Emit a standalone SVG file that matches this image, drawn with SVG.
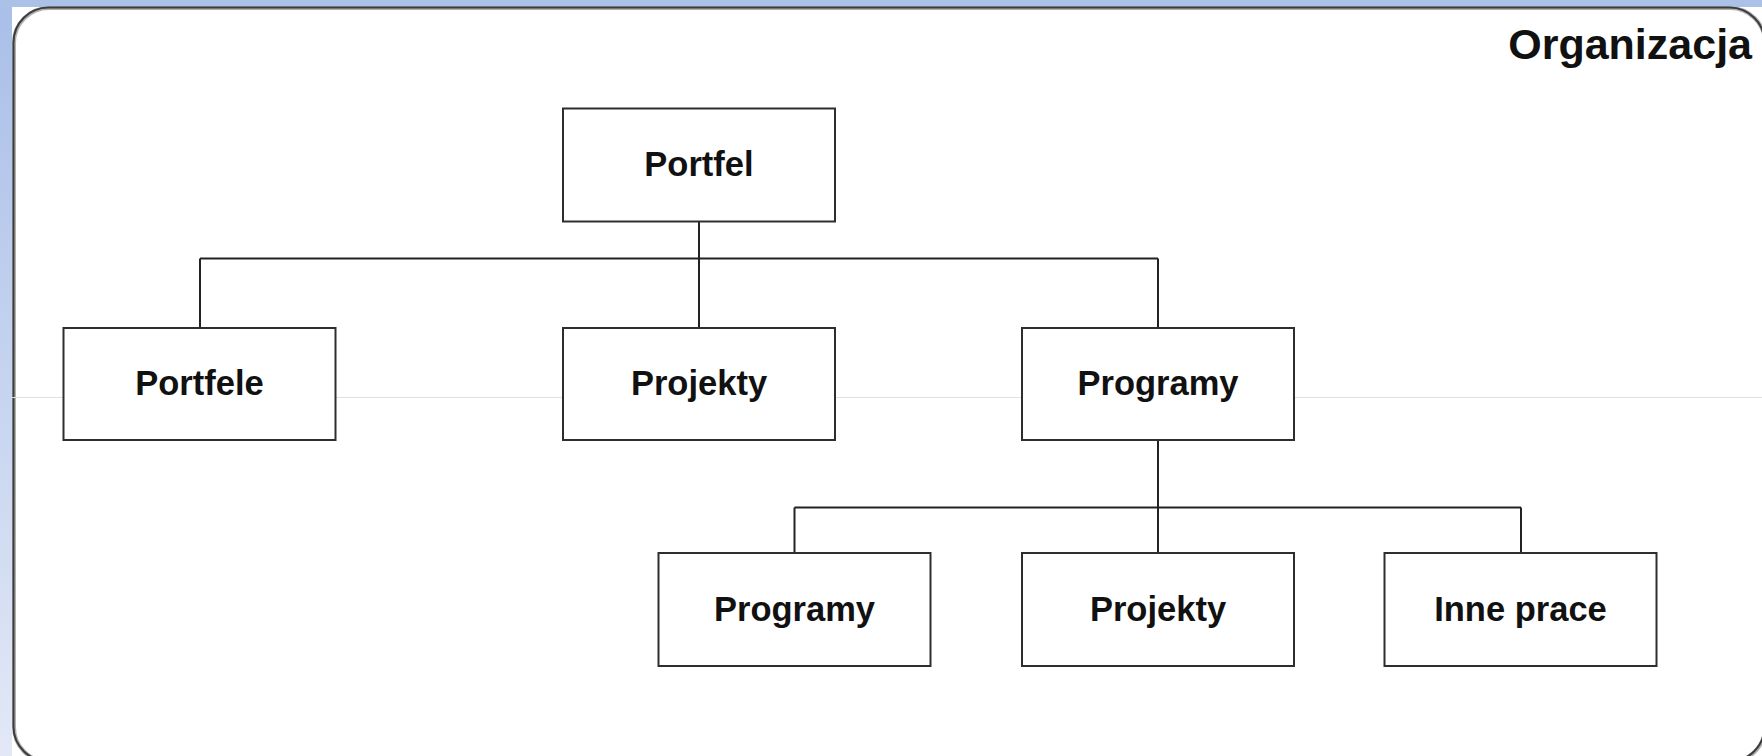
<svg xmlns="http://www.w3.org/2000/svg" width="1762" height="756" viewBox="0 0 1762 756">
  <defs>
    <linearGradient id="bg" x1="0" y1="0" x2="0" y2="1">
      <stop offset="0" stop-color="#a9bfe8"/>
      <stop offset="1" stop-color="#e2e8f6"/>
    </linearGradient>
    <style>
      .box { fill: #ffffff; stroke: #2e2e2e; stroke-width: 2; }
      .lbl { font-family: "Liberation Sans", Arial, sans-serif; font-weight: bold; font-size: 34.5px; fill: #111111; text-anchor: middle; }
      .conn line { stroke: #222222; stroke-width: 2; }
    </style>
  </defs>

  <!-- slide background -->
  <rect x="0" y="0" width="1762" height="756" fill="url(#bg)"/>
  <rect x="0" y="0" width="1762" height="7" fill="#abc1e8"/>
  <rect x="12" y="7" width="1750" height="749" fill="#ffffff"/>

  <!-- organisation frame -->
  <rect x="14" y="8" width="1751" height="754" rx="35" ry="35" fill="none" stroke="#b0b0b0" stroke-width="4"/>
  <rect x="13.5" y="7.5" width="1751" height="754" rx="35" ry="35" fill="none" stroke="#3c3c3c" stroke-width="2"/>
  <line x1="12" y1="397.5" x2="1762" y2="397.5" stroke="#dfe1ea" stroke-width="1"/>
  <text x="1752" y="58.5" font-family="Liberation Sans, Arial, sans-serif" font-weight="bold" font-size="43" fill="#111111" text-anchor="end">Organizacja</text>

  <!-- connectors -->
  <g id="connectors" class="conn">
    <line x1="699" y1="222" x2="699" y2="258.5"/>
    <line x1="200" y1="258.5" x2="1158" y2="258.5"/>
    <line x1="200" y1="258.5" x2="200" y2="328"/>
    <line x1="699" y1="258.5" x2="699" y2="328"/>
    <line x1="1158" y1="258.5" x2="1158" y2="328"/>

    <line x1="1158" y1="440" x2="1158" y2="507.5"/>
    <line x1="794.5" y1="507.5" x2="1521" y2="507.5"/>
    <line x1="794.5" y1="507.5" x2="794.5" y2="553"/>
    <line x1="1158" y1="507.5" x2="1158" y2="553"/>
    <line x1="1521" y1="507.5" x2="1521" y2="553"/>
  </g>

  <!-- nodes -->
  <g id="portfel">
    <rect class="box" x="563" y="108.5" width="272" height="113"/>
    <text class="lbl" x="699" y="176">Portfel</text>
  </g>
  <g id="portfele">
    <rect class="box" x="63.5" y="328" width="272" height="112"/>
    <text class="lbl" x="199.5" y="394.5">Portfele</text>
  </g>
  <g id="projekty-1">
    <rect class="box" x="563" y="328" width="272" height="112"/>
    <text class="lbl" x="699" y="394.5">Projekty</text>
  </g>
  <g id="programy-1">
    <rect class="box" x="1022" y="328" width="272" height="112"/>
    <text class="lbl" x="1158" y="394.5">Programy</text>
  </g>
  <g id="programy-2">
    <rect class="box" x="658.5" y="553" width="272" height="113"/>
    <text class="lbl" x="794.5" y="620.5">Programy</text>
  </g>
  <g id="projekty-2">
    <rect class="box" x="1022" y="553" width="272" height="113"/>
    <text class="lbl" x="1158" y="620.5">Projekty</text>
  </g>
  <g id="inne-prace">
    <rect class="box" x="1384.5" y="553" width="272" height="113"/>
    <text class="lbl" x="1520.5" y="620.5">Inne prace</text>
  </g>
</svg>
